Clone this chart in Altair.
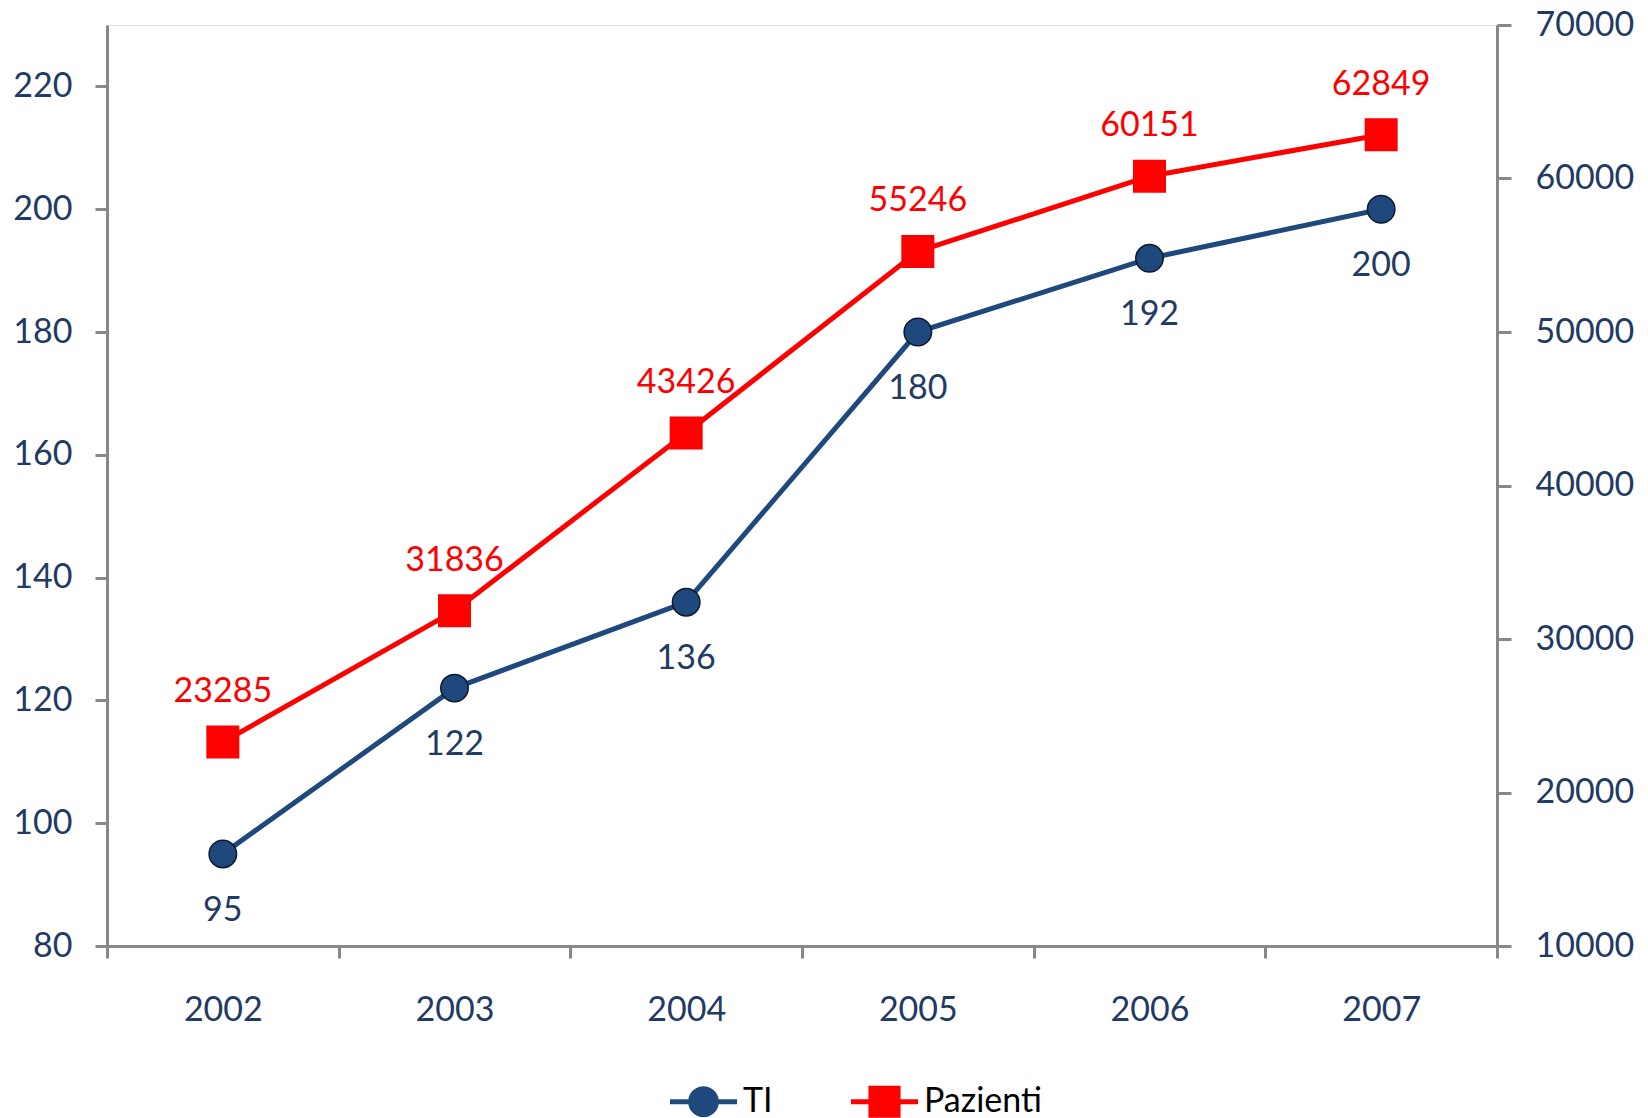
import altair as alt
import pandas as pd

years = ["2002", "2003", "2004", "2005", "2006", "2007"]
ti_values = [95, 122, 136, 180, 192, 200]
pazienti_values = [23285, 31836, 43426, 55246, 60151, 62849]
series_names = ["TI", "Pazienti"]

NAVY = "#1F497D"
TEXT = "#1F3B63"
RED = "#FF0000"
GRAY = "#888888"
FONT = "Lato"

ti_df = pd.DataFrame({"year": years, "value": ti_values, "series": "TI"})
pz_df = pd.DataFrame({"year": years, "value": pazienti_values, "series": "Pazienti"})

x_enc = alt.X(
    "year:O",
    scale=alt.Scale(type="band", paddingInner=0, paddingOuter=0),
    bandPosition=0.5,
    axis=alt.Axis(
        title=None, labelAngle=0, tickBand="extent", domainColor=GRAY, domainWidth=3,
        tickColor=GRAY, tickWidth=3, tickSize=12, labelFont=FONT, labelFontSize=34,
        labelColor=TEXT, labelPadding=35, grid=False,
    ),
)

left_y = alt.Y(
    "value:Q",
    scale=alt.Scale(domain=[80, 230], nice=False, zero=False),
    axis=alt.Axis(
        title=None, values=[80, 100, 120, 140, 160, 180, 200, 220], orient="left",
        domainColor=GRAY, domainWidth=3, tickColor=GRAY, tickWidth=3, tickSize=12,
        labelFont=FONT, labelFontSize=34, labelColor=TEXT, labelPadding=23, grid=False,
        format="d",
    ),
)

right_y = alt.Y(
    "value:Q",
    scale=alt.Scale(domain=[10000, 70000], nice=False, zero=False),
    axis=alt.Axis(
        title=None, values=[10000, 20000, 30000, 40000, 50000, 60000, 70000], orient="right",
        domainColor=GRAY, domainWidth=3, tickColor=GRAY, tickWidth=3, tickSize=14,
        labelFont=FONT, labelFontSize=34, labelColor=TEXT, labelPadding=24, grid=False,
        format="d",
    ),
)

circle_path = ("M-1,-0.075 H-0.454 A0.46,0.46 0 0,1 0.454,-0.075 H1 V0.075 H0.454 "
               "A0.46,0.46 0 0,1 -0.454,0.075 H-1 Z")
square_path = "M-1,-0.075 H-0.48 V-0.48 H0.48 V-0.075 H1 V0.075 H0.48 V0.48 H-0.48 V0.075 H-1 Z"

legend_opts = dict(
    title=None, orient="none", direction="horizontal",
    legendX=563, legendY=1043, symbolSize=4489, symbolOpacity=1,
    symbolStrokeWidth=0, labelFont=FONT, labelFontSize=34,
    labelColor="black", labelOffset=6, columnPadding=78,
)

ti_base = alt.Chart(ti_df).encode(x=x_enc, y=left_y)
ti_line = ti_base.mark_line(color=NAVY, strokeWidth=5, strokeJoin="round")
ti_pts = ti_base.mark_point(shape="circle", filled=True, fill=NAVY, stroke="#0B1A2E",
                            strokeWidth=1.5, size=755, opacity=1)
ti_txt = ti_base.mark_text(dy=57, font=FONT, fontSize=34, color=TEXT,
                           baseline="middle").encode(text="value:Q")
legend_layer = ti_base.mark_point(filled=True, opacity=0, size=755).encode(
    color=alt.Color("series:N", scale=alt.Scale(domain=series_names, range=[NAVY, RED]),
                    legend=alt.Legend(**legend_opts)),
    shape=alt.Shape("series:N", scale=alt.Scale(domain=series_names,
                                                range=[circle_path, square_path]),
                    legend=alt.Legend(**legend_opts)),
)

pz_base = alt.Chart(pz_df).encode(x=x_enc, y=right_y)
pz_line = pz_base.mark_line(color=RED, strokeWidth=5, strokeJoin="round")
pz_pts = pz_base.mark_point(shape="square", filled=True, fill=RED, size=1089, opacity=1)
pz_txt = pz_base.mark_text(dy=-50, font=FONT, fontSize=34, color=RED,
                           baseline="middle").encode(text="value:Q")

left = alt.layer(ti_line, ti_pts, ti_txt, legend_layer)
right = alt.layer(pz_line, pz_pts, pz_txt)

chart = alt.layer(left, right).resolve_scale(y="independent").properties(
    width=1390, height=921,
    autosize=alt.AutoSizeParams(type="none"),
    padding={"left": 107, "top": 25, "right": 151, "bottom": 172},
).configure_view(stroke=None).configure(background="white")

chart.save("out.html", embed_options={"renderer": "svg", "actions": False})
